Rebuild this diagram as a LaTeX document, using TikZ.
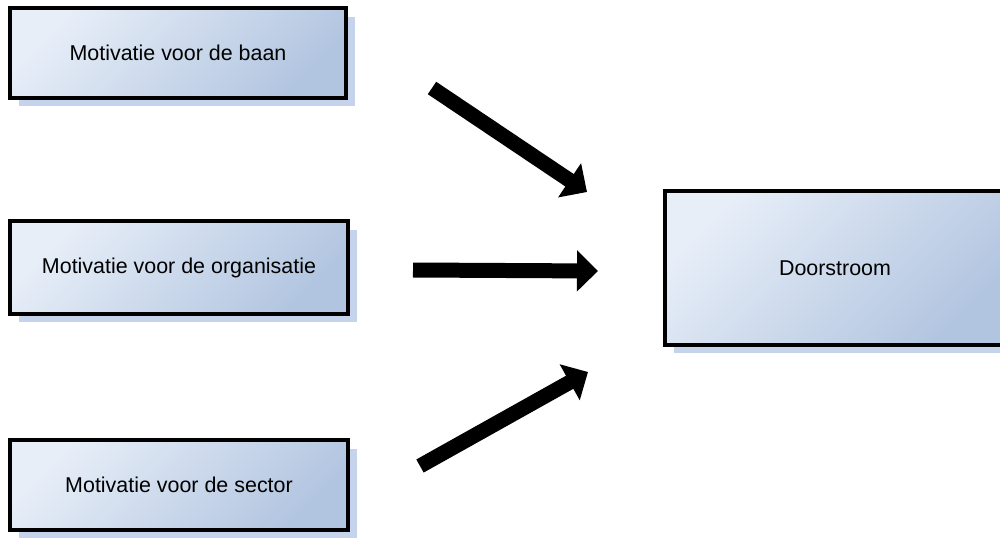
\documentclass[tikz,border=0pt]{standalone}
\usepackage{fontspec}
\setmainfont{Liberation Sans}
\usetikzlibrary{shadows,arrows.meta}
\definecolor{boxlight}{RGB}{231,238,248}
\definecolor{boxdark}{RGB}{178,197,224}
\definecolor{shadowblue}{RGB}{198,211,236}
\begin{document}
\begin{tikzpicture}[x=0.02cm,y=-0.02cm,
  box/.style={draw=black, line width=2.5pt, top color=boxlight, bottom color=boxdark,
    shading angle=45, font=\fontsize{12.2}{14}\selectfont, inner sep=0pt,
    drop shadow={shadow xshift=0.18cm, shadow yshift=-0.17cm, fill=shadowblue, opacity=1}},
  bigarrow/.style={line width=0.3cm, -{Triangle[length=0.42cm, width=0.8cm]}}]
\useasboundingbox (0,0) rectangle (1000,540);
\node[box, minimum width=6.72cm, minimum height=1.8cm] (baan) at (178,53) {Motivatie voor de baan};
\node[box, minimum width=6.76cm, minimum height=1.86cm] (org) at (179,267.5) {Motivatie voor de organisatie};
\node[box, minimum width=6.76cm, minimum height=1.8cm] (sector) at (179,485) {Motivatie voor de sector};
\node[box, minimum width=6.8cm, minimum height=3.08cm] (door) at (835,268) {Doorstroom};
\coordinate (a1s) at (432,88);
\coordinate (a1e) at (587,192);
\coordinate (a2s) at (413,270);
\coordinate (a2e) at (598,271);
\coordinate (a3s) at (420,466);
\coordinate (a3e) at (588,372);
\draw[bigarrow] (a1s) -- (a1e);
\draw[bigarrow] (a2s) -- (a2e);
\draw[bigarrow] (a3s) -- (a3e);
\end{tikzpicture}
\end{document}
